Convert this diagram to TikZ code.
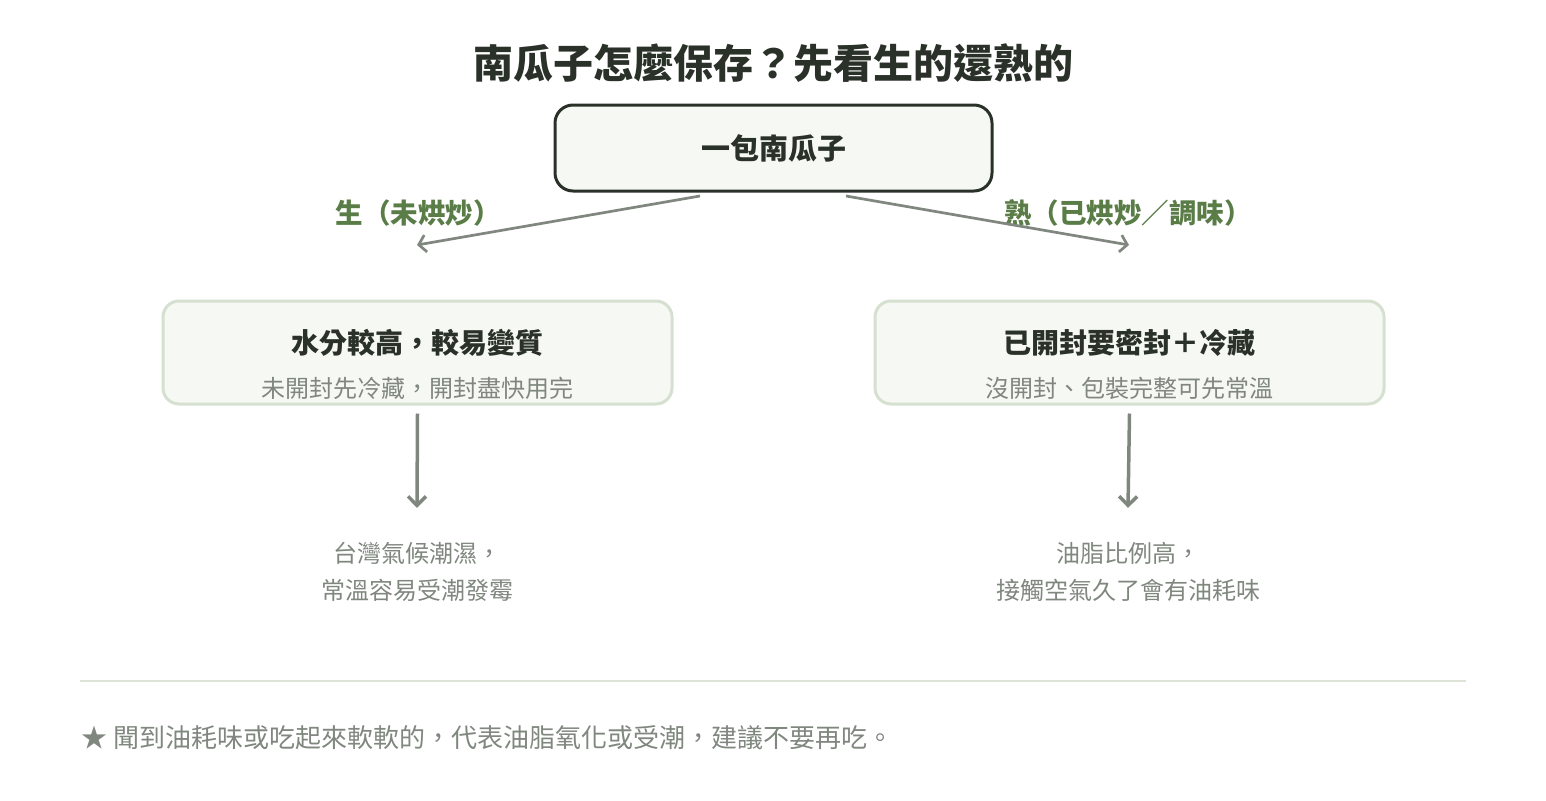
\documentclass[tikz,border=0pt]{standalone}
\usepackage{fontspec}
\setmainfont{Noto Sans CJK TC}
\usetikzlibrary{arrows.meta, positioning}
\definecolor{inkdark}{HTML}{2A3128}
\definecolor{boxfill}{HTML}{F6F8F3}
\definecolor{leafgreen}{HTML}{5A7D48}
\definecolor{stemgray}{HTML}{7F877E}
\definecolor{paleedge}{HTML}{D6E0D0}
\definecolor{rulegreen}{HTML}{DDE3D6}
\tikzstyle{seedbox} = [rectangle, rounded corners=18pt, minimum width=437pt, minimum height=86pt, line width=3pt, draw=inkdark, fill=boxfill, text=inkdark, text centered, font=\fontsize{29}{34}\selectfont\bfseries]
\tikzstyle{statebox} = [rectangle, rounded corners=16pt, minimum width=509pt, minimum height=103pt, line width=3pt, draw=paleedge, fill=boxfill]
\tikzstyle{boxhead} = [text=inkdark, font=\fontsize{28}{34}\selectfont\bfseries]
\tikzstyle{boxsub} = [text=stemgray, font=\fontsize{24}{30}\selectfont]
\tikzstyle{branchtag} = [text=leafgreen, font=\fontsize{27.5}{32}\selectfont\bfseries]
\tikzstyle{note} = [text=stemgray, align=center, font=\fontsize{24}{37}\selectfont]
\tikzstyle{arrow} = [line width=2.7pt, draw=stemgray, -{Straight Barb[length=7pt, width=17pt, line width=2.7pt]}]
\tikzstyle{downarrow} = [line width=3.5pt, draw=stemgray, -{Straight Barb[length=9pt, width=18pt, line width=3.5pt]}]
\begin{document}
\begin{tikzpicture}[x=1pt, y=-1pt, node distance=37pt]
\useasboundingbox (0,0) rectangle (1546,800);
\node (title) at (773,63) [text=inkdark, font=\fontsize{40}{46}\selectfont\bfseries] {南瓜子怎麼保存？先看生的還熟的};
\node (pack) at (773.5,148) [seedbox] {一包南瓜子};
% two branches
\node (raw) at (417.5,352.5) [statebox] {};
\node (roast) at (1129.5,352.5) [statebox] {};
\node (rawhead) at (417,343) [boxhead] {水分較高，較易變質};
\node (rawsub) at (417,388) [boxsub] {未開封先冷藏，開封盡快用完};
\node (roasthead) at (1129,343) [boxhead] {已開封要密封＋冷藏};
\node (roastsub) at (1129,388) [boxsub] {沒開封、包裝完整可先常溫};
\node (rawtag) at (418,213) [branchtag] {生（未烘炒）};
\node (roasttag) at (1128,213) [branchtag] {熟（已烘炒／調味）};
\coordinate (rawout) at (700,196);
\coordinate (rawin) at (417,245);
\coordinate (roastout) at (846,196);
\coordinate (roastin) at (1129,245);
\draw [arrow] (rawout)--(rawin);
\draw [arrow] (roastout)--(roastin);
% why
\node (rawnote) at (417,572) [note] {台灣氣候潮濕，\\常溫容易受潮發霉};
\node (roastnote) at (1128,572) [note] {油脂比例高，\\接觸空氣久了會有油耗味};
\draw [downarrow] ([yshift=-8pt]raw.south)--([yshift=31pt]rawnote.north);
\draw [downarrow] ([yshift=-8pt]roast.south)--([yshift=31pt]roastnote.north);
\draw [line width=2pt, draw=rulegreen] (80,681)--(1466,681);
\node (tip) at (78,738) [anchor=west, text=stemgray, font=\fontsize{26}{30}\selectfont] {★ 聞到油耗味或吃起來軟軟的，代表油脂氧化或受潮，建議不要再吃。};
\end{tikzpicture}
\end{document}
